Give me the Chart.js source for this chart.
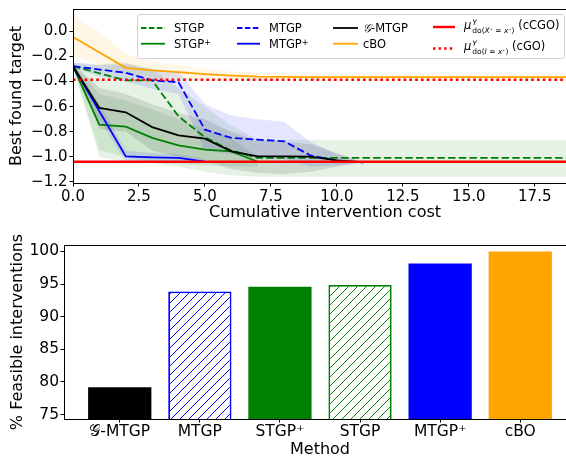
<!DOCTYPE html>
<html>
<head>
<meta charset="utf-8">
<script src="https://cdn.jsdelivr.net/npm/chart.js@4.4.1/dist/chart.umd.min.js"></script>
<style>
  body { margin: 0; background: #fff; }
  #wrap { position: relative; width: 566px; height: 456px; overflow: hidden; font-family: 'DejaVu Sans'; }
  #top { position: absolute; left: 0; top: 0; }
  #bottom { position: absolute; left: 0; top: 230px; }
  #legend { position: absolute; left: 137px; top: 14px; width: 428px; height: 45px; box-sizing: border-box;
            background: rgba(255,255,255,0.8); border: 1px solid #d3d3d3; border-radius: 3px; }
  #legend svg { position: absolute; left: 0; top: 0; }
  .lt { position: absolute; transform: translateY(-50%); white-space: nowrap; font-size: 11.5px; line-height: 12px; color: #000; }
  .lt sup { font-size: 8px; vertical-align: 3px; line-height: 0; }
  .ss { display: inline-flex; flex-direction: column; font-size: 7.5px; line-height: 8px; vertical-align: 4px; margin-left: 1px; }
  .ss sup { font-size: 5px; vertical-align: 2px; }
</style>
</head>
<body>
<div id="wrap">
  <canvas id="top" width="577" height="230"></canvas>
  <canvas id="bottom" width="576" height="232"></canvas>
  <div id="legend"></div>
</div>
<script>
// cumulative intervention cost at each step
const costs = [0, 1, 2, 3, 4, 5, 6, 7, 8, 9, 10, 11, 20];

const stgpMean = [-0.277, null, -0.39, -0.39, -0.677, -0.845, -0.95, -1.01, -1.01, -1.01, -1.01, -1.01, -1.01];
const stgpHi   = [-0.25, -0.26, -0.25, -0.3, -0.45, -0.6, -0.75, -0.865, -0.865, -0.865, -0.865, -0.865, -0.865];
const stgpLo   = [-0.29, -1.0, -1.05, -1.05, -1.08, -1.12, -1.15, -1.16, -1.16, -1.16, -1.16, -1.16, -1.16];

const stgpPlusMean = [-0.277, -0.744, -0.76, -0.85, -0.91, -0.944, -0.958, -1.04];
const stgpPlusHi   = [-0.25, -0.5, -0.55, -0.62, -0.7, -0.78, -0.85, -1.0];
const stgpPlusLo   = [-0.29, -0.95, -1.0, -1.05, -1.06, -1.07, -1.08, -1.08];

const mtgpMean = [-0.277, null, -0.33, -0.39, -0.405, -0.784, -0.85, -0.864, -0.877, -0.99, -1.03, -1.045];
const mtgpHi   = [-0.25, -0.27, -0.26, -0.3, -0.32, -0.58, -0.67, -0.7, -0.72, -0.88, -0.98, -1.045];
const mtgpLo   = [-0.29, -0.36, -0.4, -0.46, -0.5, -0.95, -0.98, -1.0, -1.02, -1.08, -1.07, -1.045];

const mtgpPlusMean = [-0.277, null, -0.997, -1.005, -1.01, -1.04];
const mtgpPlusHi   = [-0.25, -0.58, -0.95, -0.97, -0.98, -1.02];
const mtgpPlusLo   = [-0.29, -0.7, -1.04, -1.05, -1.05, -1.05];

const gmtgpMean = [-0.277, -0.61, -0.645, -0.763, -0.829, -0.856, -0.957, -0.997, -0.997, -1.0, -1.03, -1.045];
const gmtgpHi   = [-0.25, -0.45, -0.5, -0.58, -0.65, -0.7, -0.8, -0.87, -0.88, -0.9, -0.97, -1.045];
const gmtgpLo   = [-0.29, -0.78, -0.8, -0.95, -1.0, -1.03, -1.1, -1.13, -1.14, -1.12, -1.08, -1.045];

const cboMean = [-0.043, null, -0.29, -0.31, -0.325, -0.34, -0.352, -0.36, -0.362, -0.364, -0.365, -0.365, -0.365];
const cboHi   = [0.12, 0.0, -0.18, -0.24, -0.27, -0.3, -0.32, -0.33, -0.335, -0.34, -0.34, -0.34, -0.34];
const cboLo   = [-0.2, -0.26, -0.35, -0.37, -0.38, -0.385, -0.39, -0.39, -0.39, -0.39, -0.39, -0.39, -0.39];

const ccgoOptimum = -1.04;
const cgoOptimum = -0.385;

const costTicks = [0, 2.5, 5, 7.5, 10, 12.5, 15, 17.5];
const targetTicks = [0, -0.2, -0.4, -0.6, -0.8, -1.0, -1.2];

// bottom panel
const methods = ['𝒢-MTGP', 'MTGP', 'STGP⁺', 'STGP', 'MTGP⁺', 'cBO'];
const feasible = [79.2, 93.87, 94.58, 94.84, 98.14, 100];
const feasTicks = [75, 80, 85, 90, 95, 100];

Chart.defaults.font.family = 'DejaVu Sans';
Chart.defaults.color = '#000';

const pts = ys => costs.map((x, i) => ({ x, y: ys[i] })).filter(p => p.y != null);
const flat = y => [{ x: costs[0], y }, { x: costs[costs.length - 1], y }];

function line(label, data, color, dash, width) {
    return { label, data, borderColor: color, borderWidth: width || 1.8, borderDash: dash || [],
             pointRadius: 0, fill: false, tension: 0 };
}
function band(hi, lo, fillColor) {
    return [
        { data: pts(hi), borderWidth: 0, pointRadius: 0, fill: '+1', backgroundColor: fillColor, tension: 0 },
        { data: pts(lo), borderWidth: 0, pointRadius: 0, fill: false, tension: 0 }
    ];
}

const dashed = [7.5, 3.2];

const frame = {
    id: 'frame',
    afterDraw(chart) {
        const { ctx, chartArea: a } = chart;
        ctx.save();
        ctx.strokeStyle = '#000';
        ctx.lineWidth = 1;
        ctx.strokeRect(Math.round(a.left) + 0.5, Math.round(a.top) + 0.5,
                       Math.round(a.right - a.left), Math.round(a.bottom - a.top));
        ctx.restore();
    }
};

const fmt = v => v.toFixed(1).replace('-', '\u2212');
const axisGrid = { drawOnChartArea: false, drawTicks: true, tickLength: 3.5, color: '#000' };

new Chart(document.getElementById('top'), {
    type: 'line',
    data: {
        datasets: [
            line('ccgo', flat(ccgoOptimum), '#ff0000', [], 2.6),
            line('cgo', flat(cgoOptimum), '#ff0000', [2.6, 3.2], 2.6),
            line('G-MTGP', pts(gmtgpMean), '#000000'),
            line('MTGP+', pts(mtgpPlusMean), '#0000ff'),
            line('MTGP', pts(mtgpMean), '#0000ff', dashed),
            line('STGP+', pts(stgpPlusMean), '#008000'),
            line('STGP', pts(stgpMean), '#008000', dashed),
            line('cBO', pts(cboMean), '#ffa500'),
            ...band(gmtgpHi, gmtgpLo, 'rgba(0,0,0,0.1)'),
            ...band(mtgpPlusHi, mtgpPlusLo, 'rgba(0,0,255,0.1)'),
            ...band(mtgpHi, mtgpLo, 'rgba(0,0,255,0.1)'),
            ...band(stgpPlusHi, stgpPlusLo, 'rgba(0,128,0,0.1)'),
            ...band(stgpHi, stgpLo, 'rgba(0,128,0,0.1)'),
            ...band(cboHi, cboLo, 'rgba(255,165,0,0.1)')
        ]
    },
    options: {
        responsive: false,
        animation: false,
        layout: { padding: { top: 9, right: 0, left: 0, bottom: 0 } },
        plugins: { legend: { display: false }, tooltip: { enabled: false } },
        scales: {
            x: {
                type: 'linear', min: 0, max: 19.1,
                afterBuildTicks: s => { s.ticks = costTicks.map(value => ({ value })); },
                afterFit: s => { s.height = 47; s.paddingLeft = 0; s.paddingRight = 0; },
                ticks: { font: { size: 15 }, padding: 2, maxRotation: 0, callback: v => v.toFixed(1) },
                grid: axisGrid,
                border: { color: '#000' },
                title: { display: true, text: 'Cumulative intervention cost', font: { size: 16 }, padding: { top: 0, bottom: 8 } }
            },
            y: {
                min: -1.21, max: 0.18,
                afterBuildTicks: s => { s.ticks = targetTicks.map(value => ({ value })); },
                afterFit: s => { s.width = 73; s.paddingTop = 0; s.paddingBottom = 0; },
                ticks: { font: { size: 15 }, padding: 2, callback: v => fmt(v) },
                grid: axisGrid,
                border: { color: '#000' },
                title: { display: true, text: 'Best found target', font: { size: 16 }, padding: { top: 7.5, bottom: 0 } }
            }
        }
    },
    plugins: [frame]
});

// legend of the top panel
const legendCols = [
    { hx: 3, hw: 24, tx: 36, rows: [27, 42.7] },
    { hx: 99, hw: 23, tx: 131, rows: [27, 42.7] },
    { hx: 195, hw: 25, tx: 225, rows: [27, 42.7] },
    { hx: 295, hw: 22, tx: 326, rows: [26, 46.5] }
];
const legendItems = [
    [{ html: 'STGP', color: '#008000', dash: '5.5 2.4' }, { html: 'STGP<sup>+</sup>', color: '#008000' }],
    [{ html: 'MTGP', color: '#0000ff', dash: '5.5 2.4' }, { html: 'MTGP<sup>+</sup>', color: '#0000ff' }],
    [{ html: '<i style="font-family:DejaVu Serif">𝒢</i>-MTGP', color: '#000000' }, { html: 'cBO', color: '#ffa500' }],
    [{ html: '<i>μ</i><span class="ss"><i>Y</i><span>do(<i>X</i><sup>⋆</sup> = <i>x</i><sup>⋆</sup>)</span></span> (cCGO)', color: '#ff0000', w: 2.4 },
     { html: '<i>μ</i><span class="ss"><i>Y</i><span>do(<i>I</i> = <i>x</i><sup>⋆</sup>)</span></span> (cGO)', color: '#ff0000', w: 2.4, dash: '2.4 3.2' }]
];
const legendEl = document.getElementById('legend');
let svg = '<svg width="428" height="45">';
legendCols.forEach((c, ci) => {
    legendItems[ci].forEach((it, ri) => {
        const y = c.rows[ri] - 14;
        const ly = ci === 3 && ri === 1 ? y + 1 : y;
        svg += `<line x1="${c.hx}" x2="${c.hx + c.hw}" y1="${ly}" y2="${ly}" stroke="${it.color}" stroke-width="${it.w || 1.8}"` +
               (it.dash ? ` stroke-dasharray="${it.dash}"` : '') + '/>';
        const d = document.createElement('div');
        d.className = 'lt';
        d.style.left = c.tx + 'px';
        d.style.top = y + 'px';
        d.innerHTML = it.html;
        legendEl.appendChild(d);
    });
});
svg += '</svg>';
legendEl.insertAdjacentHTML('afterbegin', svg);

// hatch patterns for the unfilled bars
function hatch(color) {
    const n = 9;
    const c = document.createElement('canvas');
    c.width = n; c.height = n;
    const g = c.getContext('2d');
    g.fillStyle = '#ffffff';
    g.fillRect(0, 0, n, n);
    g.strokeStyle = color;
    g.lineWidth = 1;
    g.beginPath();
    g.moveTo(-1, n + 1); g.lineTo(n + 1, -1);
    g.stroke();
    return g.createPattern(c, 'repeat');
}

new Chart(document.getElementById('bottom'), {
    type: 'bar',
    data: {
        datasets: [{
            data: feasible.map((y, x) => ({ x, y })),
            backgroundColor: ['#000000', hatch('#0000ff'), '#008000', hatch('#008000'), '#0000ff', '#ffa500'],
            borderColor: ['#000000', '#0000ff', '#008000', '#008000', '#0000ff', '#ffa500'],
            borderWidth: [0, 1.8, 0, 1.8, 0, 0],
            categoryPercentage: 1,
            barPercentage: 0.79
        }]
    },
    options: {
        responsive: false,
        animation: false,
        layout: { padding: { top: 15, right: 0, left: 0, bottom: 0 } },
        plugins: { legend: { display: false }, tooltip: { enabled: false } },
        scales: {
            x: {
                type: 'linear', min: -0.696, max: 5.696, offset: false,
                afterBuildTicks: s => { s.ticks = methods.map((m, value) => ({ value })); },
                afterFit: s => { s.height = 43; s.paddingLeft = 0; s.paddingRight = 0; },
                ticks: { font: { size: 15.5 }, padding: 0, autoSkip: false, maxRotation: 0, callback: v => methods[v] },
                grid: { ...axisGrid, offset: false },
                border: { color: '#000' },
                title: { display: true, text: 'Method', font: { size: 16 }, padding: { top: 0, bottom: 2.6 } }
            },
            y: {
                min: 74.32, max: 100.98,
                afterBuildTicks: s => { s.ticks = feasTicks.map(value => ({ value })); },
                afterFit: s => { s.width = 64; s.paddingTop = 0; s.paddingBottom = 0; },
                ticks: { font: { size: 15.5 }, padding: 1.5 },
                grid: axisGrid,
                border: { color: '#000' },
                title: { display: true, text: '% Feasible interventions', font: { size: 16 }, padding: { top: 8, bottom: 0 } }
            }
        }
    },
    plugins: [frame]
});
</script>
</body>
</html>
